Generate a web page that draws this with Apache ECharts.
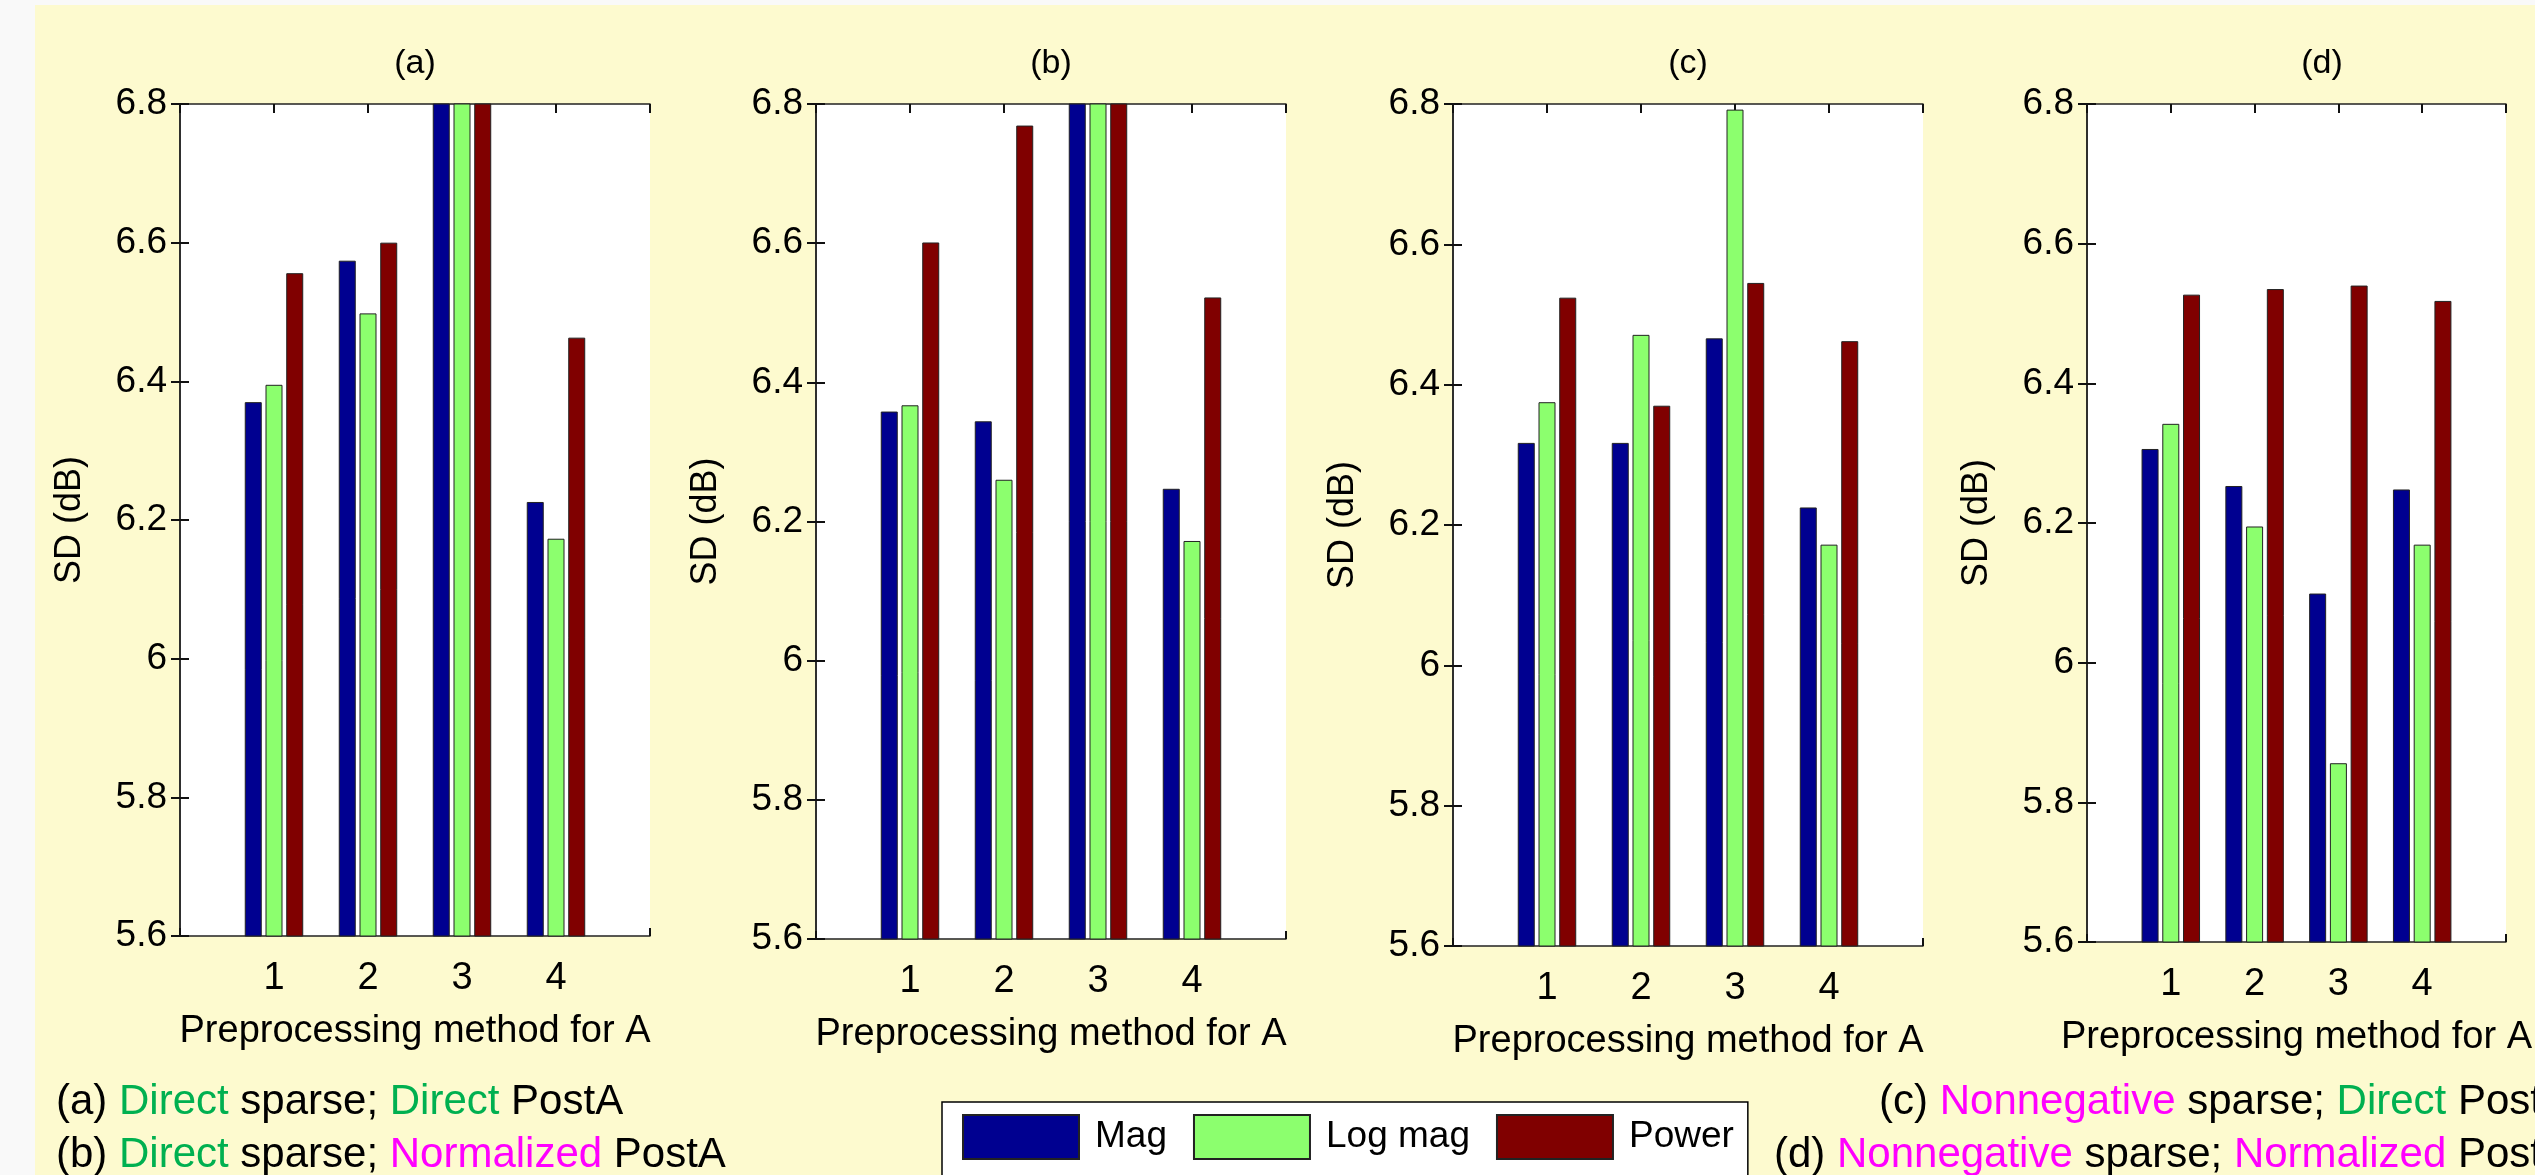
<!DOCTYPE html>
<html>
<head>
<meta charset="UTF-8">
<title>SD vs preprocessing method</title>
<script src="https://cdn.jsdelivr.net/npm/echarts@6/dist/echarts.min.js"></script>
<style>
  body { margin: 0; }
  #chart { width: 2535px; height: 1175px; }
</style>
</head>
<body>
<div id="chart"></div>
<script>
var methods = [1, 2, 3, 4];
var seriesNames = ['Mag', 'Log mag', 'Power'];
var panelTitles = ['(a)', '(b)', '(c)', '(d)'];

// method 3 in (a) and (b) goes past the top of the axis, real height unknown
var magA = [6.370, 6.574, 6.95, 6.226];
var logA = [6.395, 6.498, 6.95, 6.173];
var powA = [6.556, 6.600, 6.95, 6.463];

var magB = [6.358, 6.344, 6.95, 6.247];
var logB = [6.367, 6.260, 6.95, 6.172];
var powB = [6.601, 6.769, 6.95, 6.522];

var magC = [6.317, 6.317, 6.466, 6.225];
var logC = [6.375, 6.471, 6.792, 6.172];
var powC = [6.524, 6.370, 6.545, 6.462];

var magD = [6.306, 6.253, 6.099, 6.248];
var logD = [6.342, 6.195, 5.856, 6.169];
var powD = [6.527, 6.535, 6.540, 6.518];

var panels = [[magA, logA, powA], [magB, logB, powB], [magC, logC, powC], [magD, logD, powD]];

var colors = ['#000090', '#8CFF6E', '#800000'];
var FONT = '"Liberation Sans", Arial, sans-serif';
var lefts = [180, 816, 1453, 2087];
var bottoms = [936, 939, 946, 942];
var TOP = 104, W = 470;
var line = { color: '#222', width: 1.5 };
var tick = { color: '#111', width: 2 };

var chart = echarts.init(document.getElementById('chart'), null, { renderer: 'canvas' });

var grid = [], xAxis = [], yAxis = [], series = [], title = [];

panels.forEach(function (p, i) {
    grid.push({ left: lefts[i], top: TOP, width: W, height: bottoms[i] - TOP,
                show: true, backgroundColor: '#fff', borderWidth: 0 });
    title.push({ text: panelTitles[i], left: lefts[i] + W / 2, top: 47, padding: 0,
                 textAlign: 'center',
                 textStyle: { fontSize: 34, fontWeight: 'normal', color: '#000', fontFamily: FONT } });
    xAxis.push({
        gridIndex: i, type: 'value', min: 0, max: 5, interval: 1, position: 'bottom',
        axisLine: { onZero: false, lineStyle: line },
        axisTick: { inside: true, length: 8, lineStyle: tick },
        axisLabel: { fontSize: 38, color: '#000', margin: 24, fontFamily: FONT,
                     formatter: function (v) { return methods.indexOf(v) >= 0 ? String(v) : ''; } },
        splitLine: { show: false },
        name: 'Preprocessing method for A', nameLocation: 'middle', nameGap: 77,
        nameTextStyle: { fontSize: 38, color: '#000', fontFamily: FONT }
    });
    xAxis.push({
        gridIndex: i, type: 'value', min: 0, max: 5, interval: 1, position: 'top',
        axisLine: { onZero: false, lineStyle: line },
        axisTick: { inside: true, length: 9, lineStyle: tick },
        axisLabel: { show: false }, splitLine: { show: false }
    });
    yAxis.push({
        gridIndex: i, type: 'value', min: 5.6, max: 6.8, interval: 0.2, position: 'left',
        axisLine: { show: true, lineStyle: line },
        axisTick: { show: true, inside: true, length: 9, lineStyle: tick },
        axisLabel: { fontSize: 37, color: '#000', margin: 13, fontFamily: FONT },
        splitLine: { show: false },
        name: 'SD (dB)', nameLocation: 'middle', nameGap: 92, nameRotate: 90,
        nameTextStyle: { fontSize: 36, color: '#000', fontFamily: FONT }
    });
    yAxis.push({
        gridIndex: i, type: 'value', min: 5.6, max: 6.8, interval: 0.2, position: 'right',
        axisLine: { show: true, lineStyle: line },
        axisTick: { show: true, inside: true, length: 9, lineStyle: tick },
        axisLabel: { show: false }, splitLine: { show: false }
    });
    p.forEach(function (vals, s) {
        series.push({
            type: 'bar', name: seriesNames[s],
            xAxisIndex: 2 * i, yAxisIndex: 2 * i,
            data: methods.map(function (m, k) { return [m, vals[k]]; }),
            barWidth: 17, barGap: '22%', clip: true,
            itemStyle: { color: colors[s], borderColor: '#222', borderWidth: 1 }
        });
    });
});

// caption lines: pieces of [text, colour]
var GREEN = '#00B050', PINK = '#FF00FF', BLACK = '#000000';
var capA = [['(a) ', BLACK], ['Direct', GREEN], [' sparse; ', BLACK], ['Direct', GREEN], [' PostA', BLACK]];
var capB = [['(b) ', BLACK], ['Direct', GREEN], [' sparse; ', BLACK], ['Normalized', PINK], [' PostA', BLACK]];
var capC = [['(c) ', BLACK], ['Nonnegative', PINK], [' sparse; ', BLACK], ['Direct', GREEN], [' PostA', BLACK]];
var capD = [['(d) ', BLACK], ['Nonnegative', PINK], [' sparse; ', BLACK], ['Normalized', PINK], [' PostA', BLACK]];

var measureCtx = document.createElement('canvas').getContext('2d');
measureCtx.font = '42px ' + FONT;

// one text element per coloured piece, laid out left to right
function caption(parts, x, y, align) {
    var widths = parts.map(function (pt) { return measureCtx.measureText(pt[0]).width; });
    var total = widths.reduce(function (a, b) { return a + b; }, 0);
    var cx = align === 'right' ? x - total : x;
    return parts.map(function (pt, n) {
        var el = {
            type: 'text', x: cx, y: y,
            style: { text: pt[0], fill: pt[1], font: '42px ' + FONT,
                     align: 'left', verticalAlign: 'middle' }
        };
        cx += widths[n];
        return el;
    });
}

var graphics = [
    { type: 'rect', shape: { x: 0, y: 0, width: 35, height: 1175 }, style: { fill: '#F9F9F9' } },
    { type: 'rect', shape: { x: 0, y: 0, width: 2535, height: 5 }, style: { fill: '#F9F9F9' } }
].concat(
    caption(capA, 56, 1102, 'left'),
    caption(capB, 56, 1155, 'left'),
    caption(capC, 2570, 1102, 'right'),
    caption(capD, 2570, 1155, 'right')
);

chart.setOption({
    backgroundColor: '#FDFACF',
    animation: false,
    color: colors,
    title: title,
    grid: grid,
    xAxis: xAxis,
    yAxis: yAxis,
    series: series,
    legend: {
        data: seriesNames, left: 942, top: 1102, orient: 'horizontal',
        padding: [12, 14, 20, 20], itemWidth: 116, itemHeight: 44, itemGap: 26,
        icon: 'rect', backgroundColor: '#fff', borderColor: '#000', borderWidth: 1.5,
        textStyle: { fontSize: 37, color: '#000', fontFamily: FONT, padding: [0, 0, 0, 11] }
    },
    graphic: graphics
});
</script>
</body>
</html>
